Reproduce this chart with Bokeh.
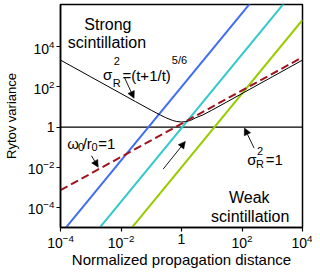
from bokeh.plotting import figure
from bokeh.models import Label, Arrow, NormalHead, FixedTicker, Range1d
from bokeh.embed import file_html
from bokeh.resources import INLINE

# ---- data ----
t_ends = [1e-4, 1e4]
blue_y = [4.64e-6, 2.15e9]
cyan_y = [4.14e-8, 1.92e7]
green_y = [4.64e-10, 2.15e5]
red_y = [7.2e-4, 3000]
t_curve = [1e-4, 1e-3, 1e-2, 3e-2, 0.1, 0.2, 0.3, 0.5, 0.7, 1, 1.4, 2, 3, 5, 10, 30, 100, 1e3, 1e4]
s_curve = [2154, 316, 46.4, 18.6, 6.87, 3.95, 2.93, 2.15, 1.88, 1.78, 1.87, 2.15, 2.93, 3.95, 6.87, 17.0, 46.4, 316, 2154]
unit_y = [1, 1]
ticks = [1e-4, 1e-2, 1, 1e2, 1e4]

FONT = "Liberation Sans"

p = figure(x_axis_type="log", y_axis_type="log",
           x_range=Range1d(1e-4, 1e4), y_range=Range1d(1e-5, 1.26e6),
           width=312, height=270,
           min_border_left=53, min_border_right=10, min_border_top=4, min_border_bottom=36,
           output_backend="svg", toolbar_location=None)

p.xgrid.visible = False
p.ygrid.visible = False
p.outline_line_color = "black"
p.outline_line_width = 1.5
p.background_fill_color = "white"

for ax in (p.xaxis[0], p.yaxis[0]):
    ax.ticker = FixedTicker(ticks=ticks)
    ax.minor_tick_line_color = None
    ax.major_tick_out = 4
    ax.major_tick_in = 0
    ax.axis_line_width = 1.5
    ax.major_tick_line_width = 1.2
    ax.major_label_text_font = FONT
    ax.major_label_text_font_size = "14px"
    ax.major_label_text_color = "black"
    ax.axis_label_text_font = FONT
    ax.axis_label_text_font_style = "normal"
    ax.axis_label_text_color = "black"
    ax.major_label_overrides = {1: "1"}
    ax.major_label_standoff = 2

p.xaxis.axis_label = "Normalized propagation distance"
p.xaxis.axis_label_text_font_size = "15px"
p.xaxis.axis_label_standoff = 0
p.yaxis.axis_label = "Rytov variance"
p.yaxis.axis_label_text_font_size = "13px"
p.yaxis.axis_label_standoff = 6

# lines
p.line(t_ends, unit_y, line_color="black", line_width=1.2)
p.line(t_ends, blue_y, line_color="#3f6ef0", line_width=2)
p.line(t_ends, cyan_y, line_color="#33c8cc", line_width=2)
p.line(t_ends, green_y, line_color="#99cc00", line_width=2)
p.line(t_curve, s_curve, line_color="black", line_width=1)
p.line(t_ends, red_y, line_color="#a0141e", line_width=2, line_dash="8 4")

# reference-pixel to data helpers for annotation placement
def dx(px):
    return 10 ** (-4 + (px - 53) / 31.25)

def dy(py):
    return 10 ** ((133 - py) / 21)

def lab(text, px, py, size="15px", align="left", baseline="alphabetic"):
    p.add_layout(Label(x=dx(px), y=dy(py), text=text, text_font=FONT,
                       text_font_size=size, text_align=align,
                       text_baseline=baseline, text_color="black"))

lab("Strong", 102, 26, "16px", "center")
lab("scintillation", 101, 45, "16px", "center")
lab("Weak", 248, 207, "16px", "center")
lab("scintillation", 249, 226, "16px", "center")

# sigma_R^2 = (t+1/t)^5/6
lab("σ", 97, 78)
lab("2", 108, 64, "11px")
lab("R", 107, 87, "11px")
lab("=(t+1/t)", 117, 79)
lab("5/6", 168, 63, "11px")

# sigma_R^2 = 1
lab("σ", 246, 167)
lab("2", 256, 158, "11px")
lab("R", 255, 172, "11px")
lab("=1", 265, 167)

# w0/r0 = 1
lab("ω", 60, 150)
lab("0", 71, 154, "11px")
lab("/", 76, 150)
lab("r", 80, 150)
lab("0", 85, 154, "11px")
lab("=1", 92, 150)

def arrow(x0, y0, x1, y1):
    p.add_layout(Arrow(end=NormalHead(size=7, fill_color="black", line_color="black", line_width=0.5),
                       x_start=dx(x0), y_start=dy(y0), x_end=dx(x1), y_end=dy(y1),
                       line_color="black", line_width=0.9))

arrow(119, 81, 129, 103)
arrow(85, 163, 92, 175)
arrow(253, 155, 243, 134)
arrow(159, 177, 182, 148)

open("out.html", "w").write(file_html(p, INLINE))
